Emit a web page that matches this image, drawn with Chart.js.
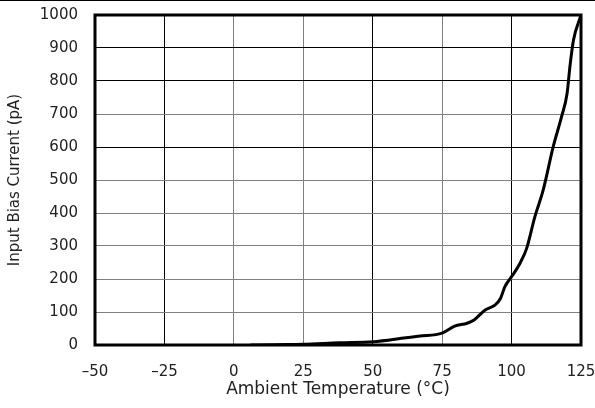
<!DOCTYPE html>
<html>
<head>
<meta charset="utf-8">
<script src="https://cdn.jsdelivr.net/npm/chart.js@4/dist/chart.umd.min.js"></script>
<style>
html,body{margin:0;padding:0;background:#fff;}
#wrap{width:595px;height:408px;position:relative;}
</style>
</head>
<body>
<div id="wrap"><canvas id="c"></canvas></div>
<script>
// Ambient temperature (°C)
const temperature = [6, 15, 25, 38, 50, 62, 67, 75, 79.5, 84, 86.5, 90.5, 94, 96, 97.6, 100, 103, 105.4, 108.4, 111.4, 115, 118, 120, 121, 122.3, 125];
// Input bias current (pA)
const biasCurrent = [0, 1, 2, 7, 10, 22, 27, 36, 57, 66, 76, 106, 121, 141, 177, 207, 247, 292, 389, 470, 601, 692, 763, 843, 924, 1000];
const xTicks = [-50, -25, 0, 25, 50, 75, 100, 125];
const yTicks = [0, 100, 200, 300, 400, 500, 600, 700, 800, 900, 1000];
const xDarkLines = [-25, 50, 100];
const yDarkLines = [600, 800, 900];

const points = temperature.map((t, i) => ({x: t, y: biasCurrent[i]}));
const FONT = "'DejaVu Sans'";

const framePlugin = {
  id: 'frame',
  afterDatasetsDraw(chart) {
    const {ctx, chartArea: a} = chart;
    ctx.save();
    ctx.strokeStyle = '#000';
    ctx.lineWidth = 3;
    ctx.strokeRect(a.left, a.top, a.right - a.left, a.bottom - a.top);
    ctx.fillStyle = '#000';
    ctx.fillRect(0, 0, chart.width, 1);
    ctx.restore();
  }
};

new Chart(document.getElementById('c'), {
  type: 'line',
  data: {
    datasets: [{
      data: points,
      borderColor: '#000',
      borderWidth: 3,
      pointRadius: 0,
      fill: false,
      cubicInterpolationMode: 'monotone'
    }]
  },
  options: {
    responsive: true,
    maintainAspectRatio: false,
    animation: false,
    layout: {padding: {top: 15, right: 14, left: 0, bottom: 0}},
    plugins: {legend: {display: false}, tooltip: {enabled: false}},
    scales: {
      x: {
        type: 'linear',
        min: -50, max: 125,
        afterBuildTicks(s) { s.ticks = xTicks.map(v => ({value: v})); },
        afterFit(s) { s.height = 63; s.paddingLeft = 0; s.paddingRight = 0; },
        ticks: {
          padding: 18,
          color: '#222',
          font: {family: FONT, size: 15},
          callback: v => (v < 0 ? '\u2013' + Math.abs(v) : String(v))
        },
        grid: {
          drawTicks: false,
          lineWidth: 1,
          color: ctx => (ctx.tick && xDarkLines.includes(ctx.tick.value)) ? '#000' : '#808080'
        },
        border: {display: false},
        title: {
          display: true,
          text: 'Ambient Temperature (°C)',
          color: '#222',
          font: {family: FONT, size: 17},
          padding: {top: 0, bottom: 8}
        }
      },
      y: {
        type: 'linear',
        min: 0, max: 1000,
        afterBuildTicks(s) { s.ticks = yTicks.map(v => ({value: v})); },
        afterFit(s) { s.width = 95; s.paddingTop = 0; s.paddingBottom = 0; },
        ticks: {
          padding: 17,
          color: '#222',
          font: {family: FONT, size: 15},
          callback: v => String(v)
        },
        grid: {
          drawTicks: false,
          lineWidth: 1,
          color: ctx => (ctx.tick && yDarkLines.includes(ctx.tick.value)) ? '#000' : '#808080'
        },
        border: {display: false},
        title: {
          display: true,
          text: 'Input Bias Current (pA)',
          color: '#222',
          font: {family: FONT, size: 15},
          padding: {top: 6, bottom: 0}
        }
      }
    }
  },
  plugins: [framePlugin]
});
</script>
</body>
</html>
